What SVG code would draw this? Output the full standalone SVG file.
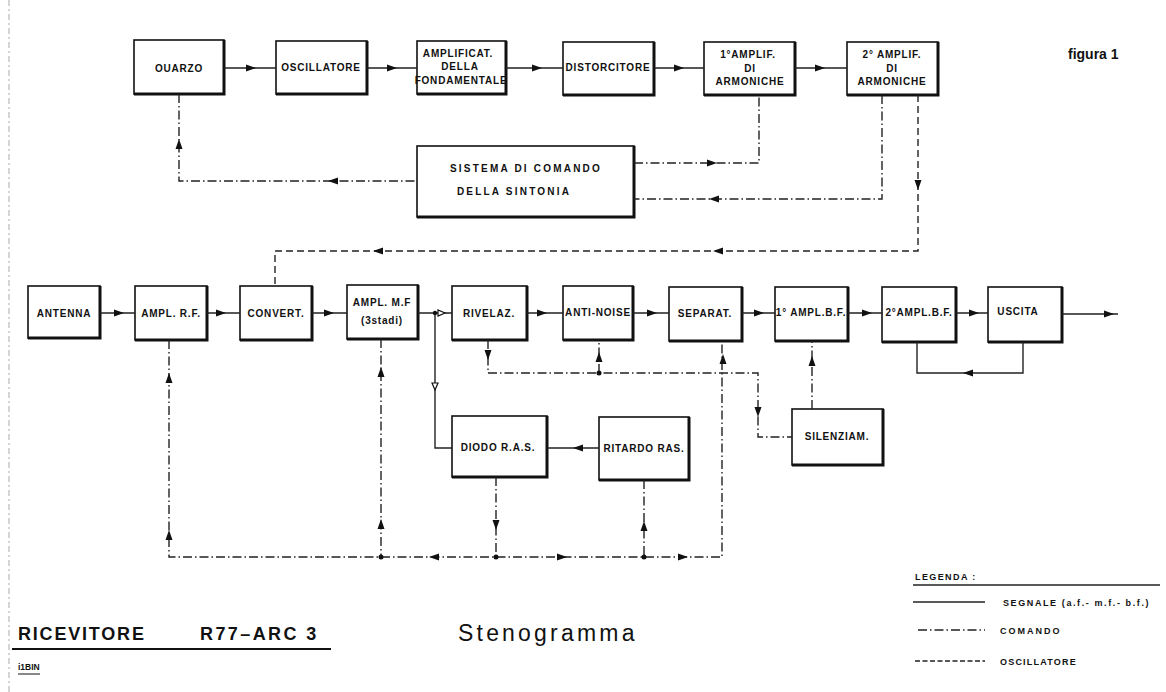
<svg xmlns="http://www.w3.org/2000/svg" width="1166" height="692" viewBox="0 0 1166 692">
<style>
.box rect{fill:#fff;stroke:#111;stroke-width:1.6}
.box path{fill:none;stroke:#111;stroke-width:3}
.lbl{font-family:"Liberation Sans",Arial,sans-serif;font-weight:bold;font-size:10px;fill:#111;text-anchor:middle;letter-spacing:0.8px}
.sig{fill:none;stroke:#222;stroke-width:1.4}
.cmd{fill:none;stroke:#222;stroke-width:1.4;stroke-dasharray:9 3 1.5 3}
.osc{fill:none;stroke:#222;stroke-width:1.4;stroke-dasharray:7 4}
.ah{fill:#111}
.oh{fill:#fff;stroke:#111;stroke-width:1.2}
.dot{fill:#111}
.leg{font-family:"Liberation Sans",Arial,sans-serif;font-weight:bold;font-size:9px;fill:#111;letter-spacing:1.4px}
</style>
<defs>
<path id="a" d="M0,0 L-10,-3.5 L-10,3.5 Z"/>
<path id="o" d="M0,0 L-7,-3 L-7,3 Z"/>
</defs>
<rect width="1166" height="692" fill="#fff"/>
<line x1="9" y1="0" x2="9" y2="692" stroke="#aaa" stroke-width="1" stroke-dasharray="6 3 2 3"/>

<g id="quarzo" class="box"><rect x="134" y="40" width="90" height="54"/><path d="M134,94 H224 V40"/><text class="lbl" x="179" y="72">OUARZO</text></g>
<g id="oscillatore" class="box"><rect x="276" y="41" width="91" height="53"/><path d="M276,94 H367 V41"/><text class="lbl" x="321" y="71">OSCILLATORE</text></g>
<g id="amplificat" class="box"><rect x="417" y="41" width="89" height="53"/><path d="M417,94 H506 V41"/><text class="lbl" x="458" y="57">AMPLIFICAT.</text><text class="lbl" x="460" y="70">DELLA</text><text class="lbl" x="461" y="84">FONDAMENTALE</text></g>
<g id="distorcitore" class="box"><rect x="563" y="42" width="91" height="53"/><path d="M563,95 H654 V42"/><text class="lbl" x="608" y="71">DISTORCITORE</text></g>
<g id="amplif1" class="box"><rect x="704" y="42" width="91" height="53"/><path d="M704,95 H795 V42"/><text class="lbl" x="748" y="58">1°AMPLIF.</text><text class="lbl" x="750" y="72">DI</text><text class="lbl" x="750" y="85">ARMONICHE</text></g>
<g id="amplif2" class="box"><rect x="847" y="42" width="91" height="53"/><path d="M847,95 H938 V42"/><text class="lbl" x="892" y="58">2° AMPLIF.</text><text class="lbl" x="892" y="72">DI</text><text class="lbl" x="892" y="85">ARMONICHE</text></g>
<g id="sistema" class="box"><rect x="417" y="146" width="217" height="71"/><path d="M417,217 H634 V146"/><text class="lbl" x="526" y="172" style="letter-spacing:2.2px">SISTEMA  DI  COMANDO</text><text class="lbl" x="514" y="195" style="letter-spacing:2.2px">DELLA  SINTONIA</text></g>

<g id="antenna" class="box"><rect x="28" y="286" width="72" height="52"/><path d="M28,338 H100 V286"/><text class="lbl" x="64" y="317">ANTENNA</text></g>
<g id="amplrf" class="box"><rect x="135" y="286" width="72" height="54"/><path d="M135,340 H207 V286"/><text class="lbl" x="171" y="317">AMPL. R.F.</text></g>
<g id="convert" class="box"><rect x="240" y="286" width="72" height="54"/><path d="M240,340 H312 V286"/><text class="lbl" x="276" y="317">CONVERT.</text></g>
<g id="amplmf" class="box"><rect x="347" y="285" width="71" height="54"/><path d="M347,339 H418 V285"/><text class="lbl" x="382" y="306">AMPL. M.F</text><text class="lbl" x="382" y="324">(3stadi)</text></g>
<g id="rivelaz" class="box"><rect x="452" y="286" width="75" height="54"/><path d="M452,340 H527 V286"/><text class="lbl" x="489" y="317">RIVELAZ.</text></g>
<g id="antinoise" class="box"><rect x="563" y="286" width="70" height="54"/><path d="M563,340 H633 V286"/><text class="lbl" x="598" y="316">ANTI-NOISE</text></g>
<g id="separat" class="box"><rect x="669" y="287" width="73" height="54"/><path d="M669,341 H742 V287"/><text class="lbl" x="705" y="317">SEPARAT.</text></g>
<g id="amplbf1" class="box"><rect x="775" y="287" width="73" height="54"/><path d="M775,341 H848 V287"/><text class="lbl" x="811" y="316">1° AMPL.B.F.</text></g>
<g id="amplbf2" class="box"><rect x="882" y="287" width="74" height="55"/><path d="M882,342 H956 V287"/><text class="lbl" x="919" y="316">2°AMPL.B.F.</text></g>
<g id="uscita" class="box"><rect x="988" y="287" width="74" height="55"/><path d="M988,342 H1062 V287"/><text class="lbl" x="1018" y="315">USCITA</text></g>
<g id="diodo" class="box"><rect x="452" y="416" width="95" height="61"/><path d="M452,477 H547 V416"/><text class="lbl" x="498" y="451">DIODO R.A.S.</text></g>
<g id="ritardo" class="box"><rect x="599" y="417" width="90" height="63"/><path d="M599,480 H689 V417"/><text class="lbl" x="644" y="452">RITARDO RAS.</text></g>
<g id="silenziam" class="box"><rect x="792" y="409" width="91" height="56"/><path d="M792,465 H883 V409"/><text class="lbl" x="837" y="440">SILENZIAM.</text></g>

<g id="connectors">
<path class="sig" d="M224,68 H276 M367,68 H417 M506,68 H563 M654,68 H704 M795,68 H847"/>
<path class="sig" d="M100,313 H135 M207,313 H240 M312,313 H347 M418,313 H452 M527,313 H563 M633,313 H669 M742,313 H775 M848,313 H882 M956,313 H988 M1062,314 H1118"/>
<path class="sig" d="M435,313 V448 H452 M599,448 H547 M1023,342 V373 H917 V342"/>
<path class="cmd" d="M179,94 V181 H417"/>
<path class="cmd" d="M634,163 H759 V95"/>
<path class="cmd" d="M882,95 V199 H634"/>
<path class="cmd" d="M488,340 V373 H758 V437 H792"/>
<path class="cmd" d="M599,373 V340"/>
<path class="cmd" d="M812,409 V341"/>
<path class="cmd" d="M169,340 V557 H722 V341"/>
<path class="cmd" d="M381,339 V557"/>
<path class="cmd" d="M496,477 V557"/>
<path class="cmd" d="M644,480 V557"/>
<path class="osc" d="M918,95 V251 H275 V286"/>
<g class="ah">
<use href="#a" transform="translate(256,68)"/>
<use href="#a" transform="translate(397,68)"/>
<use href="#a" transform="translate(542,68)"/>
<use href="#a" transform="translate(684,68)"/>
<use href="#a" transform="translate(825,68)"/>
<use href="#a" transform="translate(124,313)"/>
<use href="#a" transform="translate(226,313)"/>
<use href="#a" transform="translate(334,313)"/>
<use href="#a" transform="translate(547,313)"/>
<use href="#a" transform="translate(657,313)"/>
<use href="#a" transform="translate(764,313)"/>
<use href="#a" transform="translate(872,313)"/>
<use href="#a" transform="translate(979,313)"/>
<use href="#a" transform="translate(1114,314)"/>
<use href="#a" transform="translate(573,448) rotate(180)"/>
<use href="#a" transform="translate(963,373) rotate(180)"/>
<use href="#a" transform="translate(179,139) rotate(-90)"/>
<use href="#a" transform="translate(328,181) rotate(180)"/>
<use href="#a" transform="translate(717,163)"/>
<use href="#a" transform="translate(709,199) rotate(180)"/>
<use href="#a" transform="translate(918,190) rotate(90)"/>
<use href="#a" transform="translate(713,251) rotate(180)"/>
<use href="#a" transform="translate(373,251) rotate(180)"/>
<use href="#a" transform="translate(488,360) rotate(90)"/>
<use href="#a" transform="translate(599,352) rotate(-90)"/>
<use href="#a" transform="translate(758,417) rotate(90)"/>
<use href="#a" transform="translate(812,356) rotate(-90)"/>
<use href="#a" transform="translate(723,354) rotate(-90)"/>
<use href="#a" transform="translate(169,373) rotate(-90)"/>
<use href="#a" transform="translate(169,530) rotate(-90)"/>
<use href="#a" transform="translate(381,367) rotate(-90)"/>
<use href="#a" transform="translate(381,519) rotate(-90)"/>
<use href="#a" transform="translate(496,530) rotate(90)"/>
<use href="#a" transform="translate(644,521) rotate(-90)"/>
<use href="#a" transform="translate(429,557) rotate(180)"/>
<use href="#a" transform="translate(567,557)"/>
<use href="#a" transform="translate(688,557)"/>
</g>
<g class="oh">
<use href="#o" transform="translate(445,313)"/>
<use href="#o" transform="translate(435,390) rotate(90)"/>
</g>
<g class="dot">
<circle cx="435" cy="313" r="2.2"/>
<circle cx="599" cy="373" r="2.5"/>
<circle cx="381" cy="557" r="2.5"/>
<circle cx="496" cy="557" r="2.5"/>
<circle cx="644" cy="557" r="2.5"/>
</g>
</g>

<text x="1068" y="59" style="font-family:'Liberation Sans',Arial,sans-serif;font-weight:bold;font-size:14px;fill:#111">figura 1</text>

<g id="legenda">
<text class="leg" x="915" y="580">LEGENDA :</text>
<line x1="913" y1="585" x2="1160" y2="585" stroke="#222" stroke-width="1.4"/>
<line class="sig" x1="913" y1="602" x2="985" y2="602"/>
<text class="leg" x="1003" y="606" style="letter-spacing:1.6px">SEGNALE (a.f.- m.f.- b.f.)</text>
<line class="cmd" x1="918" y1="630" x2="985" y2="630"/>
<text class="leg" x="1000" y="634" style="letter-spacing:2px">COMANDO</text>
<line class="osc" x1="915" y1="661" x2="985" y2="661" style="stroke-dasharray:5 2.5"/>
<text class="leg" x="1000" y="665" style="letter-spacing:1.2px">OSCILLATORE</text>
</g>

<text x="18" y="640" style="font-family:'Liberation Sans',Arial,sans-serif;font-weight:bold;font-size:18px;fill:#111;letter-spacing:1.8px">RICEVITORE</text>
<text x="200" y="640" style="font-family:'Liberation Sans',Arial,sans-serif;font-weight:bold;font-size:18px;fill:#111;letter-spacing:2.4px">R77–ARC 3</text>
<line x1="12" y1="649" x2="331" y2="649" stroke="#111" stroke-width="2"/>
<text x="18" y="670" style="font-family:'Liberation Sans',Arial,sans-serif;font-weight:bold;font-size:8.5px;fill:#111">i1BIN</text>
<line x1="18" y1="674" x2="40" y2="674" stroke="#111" stroke-width="1"/>
<text x="458" y="641" style="font-family:'Liberation Sans',Arial,sans-serif;font-size:23px;fill:#111;letter-spacing:3.2px">Stenogramma</text>
</svg>
